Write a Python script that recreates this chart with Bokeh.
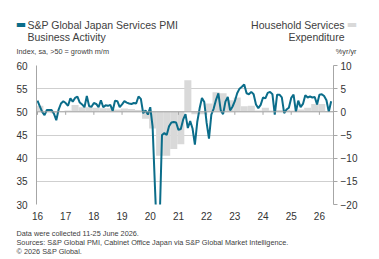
from bokeh.plotting import figure
from bokeh.models import Range1d, LinearAxis, FixedTicker, Label, Span
from bokeh.embed import file_html
from bokeh.resources import INLINE

# ---------------- data ----------------
pmi_2016 = [52.4, 51.2, 50.0, 49.3, 50.4, 50.4, 50.4, 49.6, 48.2, 50.5, 51.8, 52.3]
pmi_2017 = [51.9, 51.3, 52.9, 52.2, 53.0, 53.3, 52.0, 51.6, 51.0, 53.4, 51.2, 51.1]
pmi_2018 = [51.9, 51.7, 51.0, 52.5, 51.0, 51.4, 51.3, 51.5, 50.2, 52.4, 52.3, 51.0]
pmi_2019 = [51.6, 52.3, 52.0, 51.8, 51.7, 51.9, 51.8, 53.3, 52.8, 49.7, 50.3, 49.4]
pmi_2020 = [51.0, 46.8, 33.8, 21.5, 26.5, 45.0, 45.4, 45.0, 46.9, 47.7, 47.8, 47.7]
pmi_2021 = [46.1, 46.3, 48.3, 49.5, 46.5, 48.0, 46.4, 42.9, 47.8, 50.7, 53.0, 52.1]
pmi_2022 = [47.6, 44.2, 49.4, 50.7, 52.6, 54.0, 50.3, 49.5, 52.2, 53.2, 50.3, 51.1]
pmi_2023 = [52.3, 54.0, 55.0, 55.4, 55.9, 54.0, 53.8, 54.3, 53.8, 51.6, 50.8, 51.5]
pmi_2024 = [53.1, 52.9, 54.1, 54.3, 53.8, 49.4, 53.7, 53.7, 53.1, 49.7, 50.5, 50.9]
pmi_2025 = [53.0, 53.7, 50.0, 52.4, 51.0, 51.7, 53.6, 53.1, 53.3, 53.1, 53.2, 51.6]
pmi_2026 = [53.7, 53.8, 53.4, 52.5, 50.0, 52.3]
pmi_values = (pmi_2016 + pmi_2017 + pmi_2018 + pmi_2019 + pmi_2020 + pmi_2021
              + pmi_2022 + pmi_2023 + pmi_2024 + pmi_2025 + pmi_2026)
pmi_start_year = 2016

# Household services expenditure, %yr/yr, quarterly from 2016 Q1
hse_values = [1.3, 0.2, -0.3, 0.2,
              0.3, 1.5, 1.0, 1.0,
              0.9, 0.8, 0.8, 0.5,
              0.7, 0.6, 0.4, -1.5,
              -3.6, -9.5, -9.5, -8.0,
              -7.0, 6.8, -0.5, -0.5,
              1.8, 4.2, 4.0, 2.5,
              3.1, 1.2, 1.3, 0.3,
              0.9, 0.3, 0.4, 0.4,
              0.3, 0.5, 0.9, 1.7,
              1.7]
hse_start_year = 2016

year_ticks = list(range(2016, 2027))
year_labels = ["16", "17", "18", "19", "20", "21", "22", "23", "24", "25", "26"]
left_ticks = [30, 35, 40, 45, 50, 55, 60]
right_ticks = [-20, -15, -10, -5, 0, 5, 10]

# ---------------- derived x positions ----------------
pmi_x = [pmi_start_year + i / 12 for i in range(len(pmi_values))]
hse_x = [hse_start_year + (3 * i + 1) / 12 for i in range(len(hse_values))]

W = 379
HEAD_H, MAIN_H, FOOT_H = 57, 169, 33
TEAL = "#0b6d8a"
BAR = "#d9d9d9"
GRID = "#cfcfcf"
TXT = "#404040"
FONT = "Liberation Sans"


def blank(h):
    f = figure(width=W, height=h, output_backend="svg", toolbar_location=None,
               title=None, x_axis_type=None, y_axis_type=None,
               x_range=Range1d(0, W), y_range=Range1d(0, h),
               min_border=0, outline_line_color=None,
               background_fill_color="white", border_fill_color="white")
    f.grid.visible = False
    return f


def lab(fig, h, text, x, y, size, align="left", color=TXT, font=FONT):
    # x, y in this figure's pixel coords with a top-left origin
    fig.add_layout(Label(x=x, y=h - y, x_units="screen", y_units="screen",
                         text=text, text_font=font, text_font_size=size,
                         text_color=color, text_align=align, text_baseline="middle"))


# ---------------- header ----------------
head = blank(HEAD_H)
lab(head, HEAD_H, "S&P Global Japan Services PMI", 27, 24, "10.5px")
lab(head, HEAD_H, "Business Activity", 27, 36.5, "10.5px")
lab(head, HEAD_H, "Index, sa, >50 = growth m/m", 16, 50.5, "7.3px")
lab(head, HEAD_H, "Household Services", 344, 24, "10.5px", align="right")
lab(head, HEAD_H, "Expenditure", 344, 36.5, "10.5px", align="right")
lab(head, HEAD_H, "%yr/yr", 356, 50.5, "7.3px", align="right")
lab(head, HEAD_H, "\u25ac", 20.5, 23.5, "11px", align="center", color=TEAL, font="DejaVu Sans")
lab(head, HEAD_H, "\u25ac", 351.5, 23.5, "11px", align="center", color=BAR, font="DejaVu Sans")

# ---------------- main chart ----------------
p = figure(width=W, height=MAIN_H, output_backend="svg", toolbar_location=None,
           title=None, x_range=Range1d(2015.965, 2026.5), y_range=Range1d(30, 60),
           min_border_left=36, min_border_right=46, min_border_top=8,
           min_border_bottom=22, background_fill_color="white",
           border_fill_color="white", outline_line_color=None)
p.extra_y_ranges = {"right": Range1d(-20, 10)}

p.xaxis.ticker = FixedTicker(ticks=year_ticks)
p.xaxis.major_label_overrides = {t: l for t, l in zip(year_ticks, year_labels)}
p.xaxis.axis_line_color = None
p.xaxis.major_tick_line_color = None
p.xaxis.minor_tick_line_color = None
p.xaxis.major_tick_out = 0
p.xaxis.major_label_standoff = 7
p.xaxis.major_label_text_font = FONT
p.xaxis.major_label_text_font_size = "10px"
p.xaxis.major_label_text_color = "#333333"

p.yaxis.ticker = FixedTicker(ticks=left_ticks)
p.yaxis.axis_line_color = "#a6a6a6"
p.yaxis.major_tick_line_color = None
p.yaxis.minor_tick_line_color = None
p.yaxis.major_tick_out = 0
p.yaxis.major_label_standoff = 9
p.yaxis.major_label_text_font = FONT
p.yaxis.major_label_text_font_size = "10px"
p.yaxis.major_label_text_color = "#333333"

ra = LinearAxis(y_range_name="right", ticker=FixedTicker(ticks=right_ticks))
ra.axis_line_color = "#a6a6a6"
ra.major_tick_line_color = "#a6a6a6"
ra.major_tick_out = 4
ra.major_tick_in = 0
ra.minor_tick_line_color = None
ra.major_label_standoff = 3
ra.major_label_text_font = FONT
ra.major_label_text_font_size = "10px"
ra.major_label_text_color = "#333333"
p.add_layout(ra, "right")

p.xgrid.grid_line_color = None
p.ygrid.grid_line_color = GRID
p.ygrid.ticker = FixedTicker(ticks=left_ticks)

p.vbar(x=hse_x, top=hse_values, bottom=0, width=0.25, y_range_name="right",
       fill_color=BAR, line_color=None)

p.add_layout(Span(location=50, dimension="width", line_color="#a6a6a6", line_width=1))
p.segment(x0=year_ticks, x1=year_ticks, y0=[50] * len(year_ticks),
          y1=[49.35] * len(year_ticks), line_color="#a6a6a6", line_width=1)

p.line(pmi_x, pmi_values, line_color=TEAL, line_width=2)

# ---------------- footer ----------------
foot = blank(FOOT_H)
lab(foot, FOOT_H, "Data were collected 11-25 June 2026.", 16, 6.5, "7.3px")
lab(foot, FOOT_H, "Sources: S&P Global PMI, Cabinet Office Japan via S&P Global Market Intelligence.", 16, 16, "7.3px")
lab(foot, FOOT_H, "\u00a9 2026 S&P Global.", 16, 25, "7.3px")

html = file_html([head, p, foot], INLINE)
html = html.replace("<head>", "<head><style>html,body{margin:0;padding:0;}</style>", 1)
open("out.html", "w").write(html)
